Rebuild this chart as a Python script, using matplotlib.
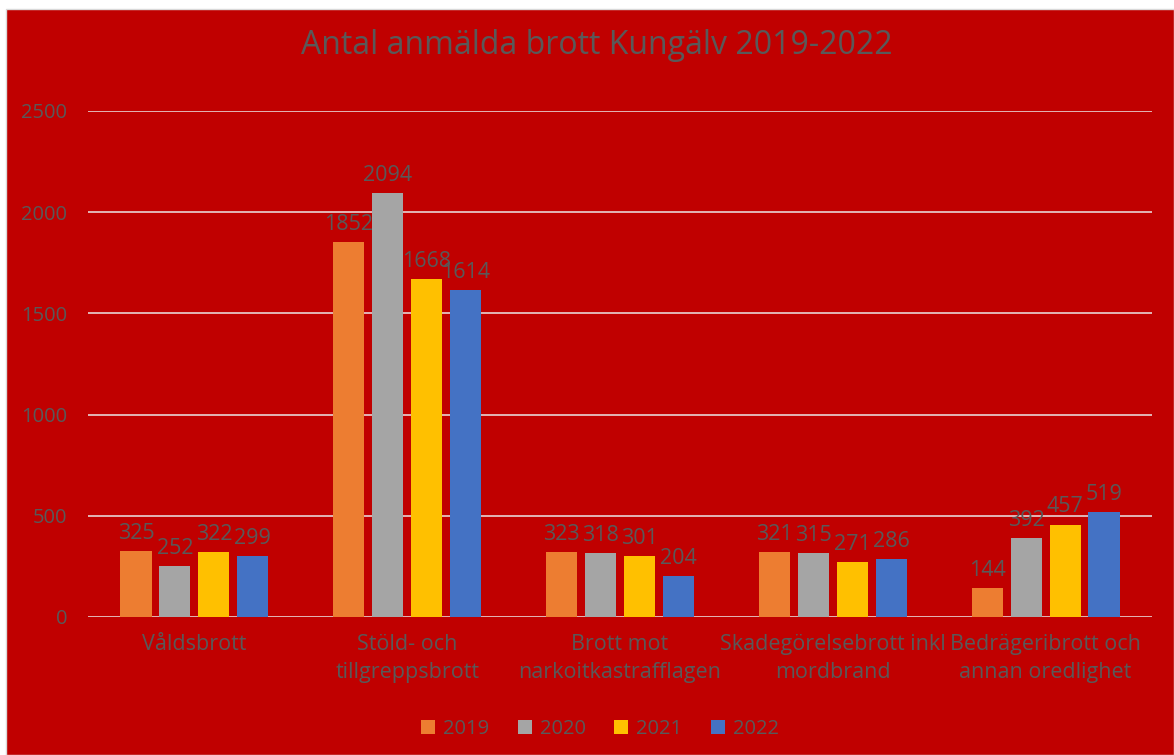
import numpy as np
import matplotlib.pyplot as plt
from matplotlib.patches import Rectangle

plt.rcParams['font.family'] = ['Open Sans', 'DejaVu Sans']

# data
categories = ["Våldsbrott", "Stöld- och\ntillgreppsbrott", "Brott mot\nnarkoitkastrafflagen",
              "Skadegörelsebrott inkl\nmordbrand", "Bedrägeribrott och\nannan oredlighet"]
years = ["2019", "2020", "2021", "2022"]
v2019 = [325, 1852, 323, 321, 144]
v2020 = [252, 2094, 318, 315, 392]
v2021 = [322, 1668, 301, 271, 457]
v2022 = [299, 1614, 204, 286, 519]
series = [v2019, v2020, v2021, v2022]
colors = ["#ED7D31", "#A5A5A5", "#FFC000", "#4472C4"]

red = "#C00000"
txt = "#595959"

fig = plt.figure(figsize=(11.74, 7.55), dpi=100, facecolor="white")
bg = Rectangle((6 / 1174, 0), 1 - 6 / 1174, 1 - 9 / 755,
               transform=fig.transFigure, facecolor=red,
               edgecolor="#D9D9D9", linewidth=1, zorder=-10)
fig.patches.append(bg)

ax = fig.add_axes([88 / 1174, (755 - 617) / 755, (1152 - 88) / 1174, (617 - 111) / 755])
ax.set_facecolor(red)

x = np.arange(len(categories))
width = 0.146
step = 0.183
for i, (vals, c, yr) in enumerate(zip(series, colors, years)):
    pos = x + (i - 1.5) * step
    ax.bar(pos, vals, width, color=c, label=yr, zorder=3)
    for p, v in zip(pos, vals):
        ax.text(p, v + 35, str(v), ha="center", va="bottom", fontsize=15.5, color=txt, zorder=4)

ax.set_xlim(-0.5, len(categories) - 0.5)
ax.set_ylim(0, 2500)
ax.set_yticks(range(0, 2501, 500))
ax.yaxis.grid(True, color="#E8D4D4", linewidth=1.2, zorder=1)
ax.set_axisbelow(True)
for s in ax.spines.values():
    s.set_visible(False)
ax.tick_params(axis="both", length=0, colors=txt, labelsize=14.5)
ax.tick_params(axis="y", pad=15)
ax.tick_params(axis="x", pad=12)
ax.set_xticks(x)
ax.set_xticklabels(categories, fontsize=15.5, color=txt, linespacing=1.45)

fig.text(597 / 1174, 1 - 46 / 755, "Antal anmälda brott Kungälv 2019-2022",
         ha="center", va="center", fontsize=23, color=txt)

leg = fig.legend(loc="center", bbox_to_anchor=(600 / 1174, 1 - 729 / 755), ncol=4,
                 frameon=False, fontsize=14.5, handlelength=0.7, handleheight=0.7,
                 columnspacing=1.4, handletextpad=0.4)
for t in leg.get_texts():
    t.set_color(txt)

fig.savefig("out.png", dpi=100, facecolor=fig.get_facecolor())
